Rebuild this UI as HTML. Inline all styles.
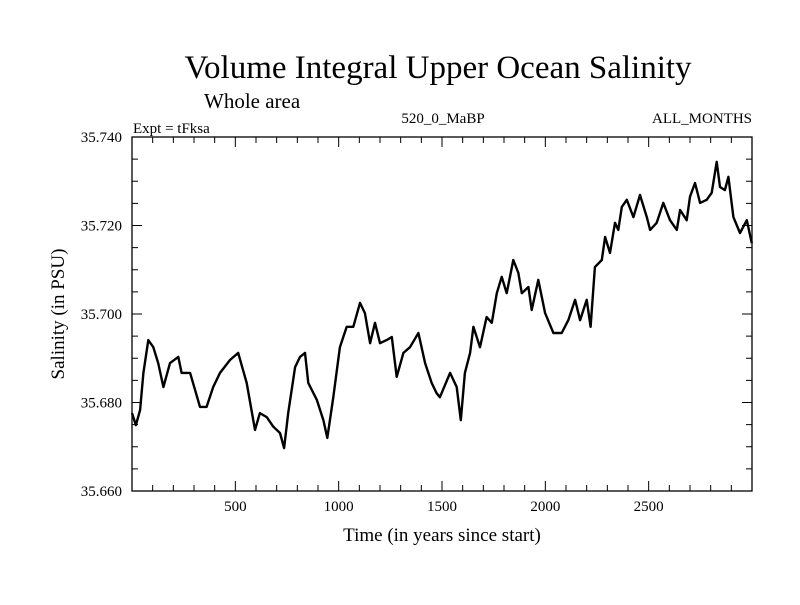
<!DOCTYPE html>
<html><head><meta charset="utf-8"><style>
html,body{margin:0;padding:0;background:#fff;}
svg text{font-family:"Liberation Serif",serif;fill:#000;}
</style></head><body>
<svg id="chart" width="800" height="600" viewBox="0 0 800 600" xmlns="http://www.w3.org/2000/svg">
<text x="438" y="78" font-size="33" text-anchor="middle">Volume Integral Upper Ocean Salinity</text>
<text x="204" y="108" font-size="21">Whole area</text>
<text x="133" y="133" font-size="15">Expt = tFksa</text>
<text x="443" y="123" font-size="15" text-anchor="middle">520_0_MaBP</text>
<text x="752" y="123" font-size="15" text-anchor="end">ALL_MONTHS</text>
<text x="442" y="541" font-size="19" text-anchor="middle">Time (in years since start)</text>
<text transform="translate(64,314) rotate(-90)" font-size="19" text-anchor="middle">Salinity (in PSU)</text>
<g id="axes"></g>
<path id="series" fill="none" stroke="#000" stroke-width="2.4" stroke-linejoin="round"/>
</svg>
<script>
const years = [0,19,39,55,79,103,127,152,184,224,240,281,329,361,393,426,474,514,555,595,619,652,684,716,736,756,789,813,837,853,894,926,945,974,1006,1039,1071,1103,1127,1152,1176,1200,1232,1257,1281,1313,1345,1386,1418,1450,1474,1490,1539,1571,1591,1611,1636,1652,1684,1716,1741,1765,1789,1813,1845,1869,1886,1918,1934,1966,1999,2039,2079,2111,2144,2168,2200,2219,2240,2273,2289,2313,2337,2353,2370,2394,2426,2458,2491,2507,2539,2571,2603,2636,2652,2684,2700,2724,2749,2781,2805,2829,2845,2869,2886,2910,2942,2975,2999];
const salinity = [35.6776,35.6749,35.6783,35.6867,35.6941,35.6925,35.6889,35.6835,35.6889,35.6903,35.6867,35.6867,35.6790,35.6790,35.6835,35.6867,35.6896,35.6912,35.6844,35.6738,35.6776,35.6767,35.6745,35.6731,35.6697,35.6776,35.6880,35.6903,35.6912,35.6844,35.6806,35.6760,35.6720,35.6812,35.6925,35.6971,35.6971,35.7025,35.7002,35.6934,35.6980,35.6934,35.6941,35.6948,35.6858,35.6912,35.6925,35.6957,35.6889,35.6844,35.6821,35.6812,35.6867,35.6835,35.6760,35.6867,35.6912,35.6971,35.6925,35.6993,35.6980,35.7047,35.7084,35.7047,35.7122,35.7093,35.7047,35.7061,35.7009,35.7077,35.7002,35.6957,35.6957,35.6986,35.7032,35.6986,35.7032,35.6971,35.7106,35.7122,35.7174,35.7138,35.7206,35.7190,35.7242,35.7258,35.7219,35.7269,35.7219,35.7190,35.7206,35.7251,35.7212,35.7190,35.7235,35.7212,35.7265,35.7296,35.7251,35.7258,35.7274,35.7344,35.7287,35.7280,35.7310,35.7219,35.7183,35.7212,35.7160];
const xTicks = [500,1000,1500,2000,2500];
const yTicks = [35.660,35.680,35.700,35.720,35.740];
const yTickLabels = ["35.660","35.680","35.700","35.720","35.740"];
const xMin=0,xMax=3000,yMin=35.66,yMax=35.74;
const L=132,R=752,T=137,B=491;
function sx(v){return L+(v-xMin)/(xMax-xMin)*(R-L);}
function sy(v){return B-(v-yMin)/(yMax-yMin)*(B-T);}
const NS="http://www.w3.org/2000/svg";
const g=document.getElementById('axes');
function mk(tag,attrs){const e=document.createElementNS(NS,tag);for(const k in attrs)e.setAttribute(k,attrs[k]);g.appendChild(e);return e;}
const frame=mk('rect',{x:L,y:T,width:R-L,height:B-T,fill:'none',stroke:'#000','stroke-width':1.3});


let d='';
for(let v=100;v<xMax;v+=100){const x=sx(v);const len=(v%500===0)?10:6;d+=`M${x},${B}v${-len}M${x},${T}v${len}`;}
for(let v=yMin+0.005;v<yMax-0.001;v+=0.005){const y=sy(v);const len=(Math.abs(Math.round(v*1000)%20)<0.5)?10:6;d+=`M${L},${y}h${len}M${R},${y}h${-len}`;}
const ticks=mk('path',{d:d,stroke:'#000','stroke-width':1,fill:'none'});


xTicks.forEach(v=>{const t=mk('text',{x:sx(v),y:B+20,'font-size':15,'text-anchor':'middle'});t.textContent=v;

});
yTicks.forEach((v,i)=>{const t=mk('text',{x:122,y:sy(v)+5,'font-size':15,'text-anchor':'end'});t.textContent=yTickLabels[i];

});
document.getElementById('series').setAttribute('d',years.map((y,i)=>(i?'L':'M')+sx(y).toFixed(1)+','+sy(salinity[i]).toFixed(1)).join(''));
</script>
</body></html>
